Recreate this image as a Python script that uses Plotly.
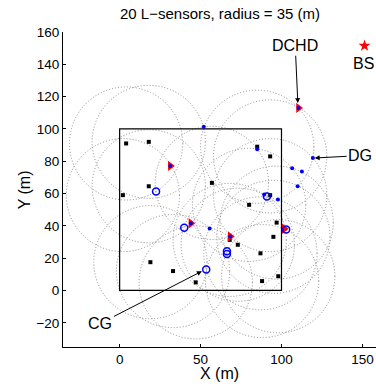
import plotly.graph_objects as go

# L-sensors (black squares), circle radius 35
sensor_x = [4, 18, 18, 2, 57, 85, 93, 93, 80, 19, 33, 47, 97, 68, 73, 95, 87, 98, 88]
sensor_y = [91, 92, 64.5, 59, 66.6, 89, 83, 59, 53, 17.5, 12, 5, 42, 31.3, 28.3, 33.2, 23, 8.8, 5.8]
radius = 35

# blue filled dots
dot_x = [52, 85, 119.4, 106.6, 112.6, 110, 89.3, 97.8, 55.6, 31.3, 44, 68.3, 110.5]
dot_y = [101.4, 87.4, 82, 75.6, 73.6, 64.5, 59.4, 56.3, 38.3, 77.1, 41.6, 33.4, 113]

# blue open circles
ring_x = [22.5, 91, 39.9, 53.5, 66.3, 66.3, 102.9]
ring_y = [61.2, 58.1, 38.8, 13, 24.3, 22.6, 37.7]

# red triangles
tri_x = [31.3, 44, 68.3, 110.5, 101.7]
tri_y = [77.1, 41.6, 33.4, 113, 38.2]

# base station
bs_x = [151.3]
bs_y = [151.5]

FONT = "Liberation Sans, Arial, Helvetica, sans-serif"

fig = go.Figure()

shapes = []
for cx, cy in zip(sensor_x, sensor_y):
    shapes.append(dict(type="circle", xref="x", yref="y",
                       x0=cx - radius, x1=cx + radius, y0=cy - radius, y1=cy + radius,
                       line=dict(color="rgb(140,140,140)", width=1, dash="1px,2px"),
                       layer="below"))
shapes.append(dict(type="rect", xref="x", yref="y", x0=0, x1=100, y0=0, y1=100,
                   line=dict(color="black", width=1.2), layer="below"))

fig.add_trace(go.Scatter(x=sensor_x, y=sensor_y, mode="markers",
                         marker=dict(symbol="square", size=4, color="black"),
                         showlegend=False))
fig.add_trace(go.Scatter(x=tri_x, y=tri_y, mode="markers",
                         marker=dict(symbol="triangle-right", size=9, color="red"),
                         showlegend=False))
fig.add_trace(go.Scatter(x=ring_x, y=ring_y, mode="markers",
                         marker=dict(symbol="circle-open", size=7, color="blue",
                                     line=dict(width=1.5, color="blue")),
                         showlegend=False))
fig.add_trace(go.Scatter(x=dot_x, y=dot_y, mode="markers",
                         marker=dict(symbol="circle", size=4, color="blue"),
                         showlegend=False))
fig.add_trace(go.Scatter(x=bs_x, y=bs_y, mode="markers",
                         marker=dict(symbol="star", size=9, color="red"),
                         showlegend=False))

ann_font = dict(family=FONT, size=16, color="black")
annotations = [
    dict(text="20 L\u2212sensors, radius = 35 (m)", xref="paper", yref="paper",
         x=0.5, y=1.0578, xanchor="center", yanchor="middle", showarrow=False,
         font=dict(family=FONT, size=15, color="black")),
    dict(text="X (m)", xref="paper", yref="paper", x=0.5, y=-0.0845,
         xanchor="center", yanchor="middle", showarrow=False,
         font=dict(family=FONT, size=16, color="black")),
    dict(text="Y (m)", xref="paper", yref="paper", x=-0.122, y=0.5, textangle=-90,
         xanchor="center", yanchor="middle", showarrow=False,
         font=dict(family=FONT, size=16, color="black")),
    dict(text="DCHD", x=110.1, y=116, ax=108.5, ay=151.5, xref="x", yref="y",
         axref="x", ayref="y", showarrow=True, arrowhead=2, arrowsize=1,
         arrowwidth=1, arrowcolor="black", font=ann_font),
    dict(text="DG", x=120.5, y=82, ax=148.6, ay=83.5, xref="x", yref="y",
         axref="x", ayref="y", showarrow=True, arrowhead=2, arrowsize=1,
         arrowwidth=1, arrowcolor="black", font=ann_font),
    dict(text="CG", x=50.8, y=11.9, ax=-11.9, ay=-20.4, xref="x", yref="y",
         axref="x", ayref="y", showarrow=True, arrowhead=2, arrowsize=1,
         arrowwidth=1, arrowcolor="black", font=ann_font),
    dict(text="BS", x=150.6, y=140.6, xref="x", yref="y", showarrow=False,
         font=ann_font),
]

fig.update_layout(
    width=376, height=386,
    margin=dict(l=62.7, r=0, t=31.7, b=39.3),
    paper_bgcolor="white", plot_bgcolor="white",
    shapes=shapes, annotations=annotations,
    font=dict(family=FONT, size=13.5, color="black"),
    xaxis=dict(range=[-35, 158.4], tickvals=[0, 50, 100, 150], showgrid=False,
               zeroline=False, showline=True, linecolor="black", linewidth=1,
               ticks="inside", ticklen=3, tickcolor="black",
               tickfont=dict(family=FONT, size=13.5, color="black")),
    yaxis=dict(range=[-35, 160], tickvals=list(range(-20, 161, 20)), showgrid=False,
               zeroline=False, showline=True, linecolor="black", linewidth=1,
               ticks="inside", ticklen=3, tickcolor="black",
               tickfont=dict(family=FONT, size=13.5, color="black")),
)

fig.write_html("out.html", config={"displayModeBar": False},
               post_script="document.body.style.margin='0';document.body.style.overflow='hidden';")
